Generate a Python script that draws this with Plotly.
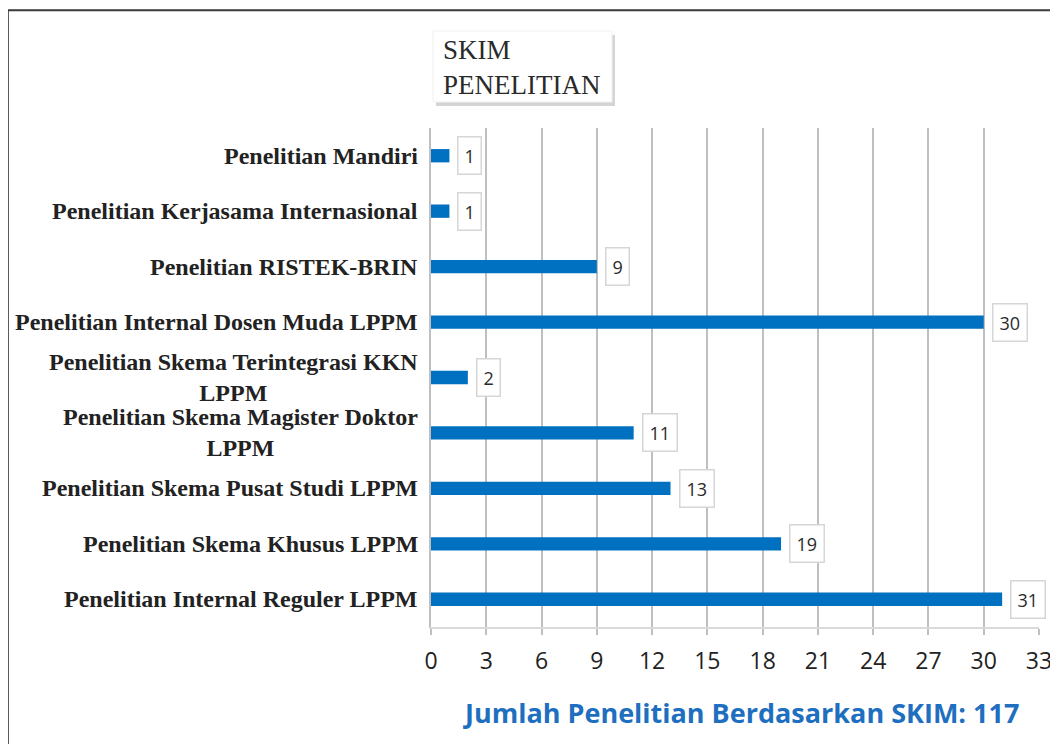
import plotly.graph_objects as go

# categories, top to bottom as in the picture
categories = ['Penelitian Mandiri',
              'Penelitian Kerjasama Internasional',
              'Penelitian RISTEK-BRIN',
              'Penelitian Internal Dosen Muda LPPM',
              'Penelitian Skema Terintegrasi KKN<br>LPPM',
              'Penelitian Skema Magister Doktor<br>LPPM',
              'Penelitian Skema Pusat Studi LPPM',
              'Penelitian Skema Khusus LPPM',
              'Penelitian Internal Reguler LPPM']
counts = [1, 1, 9, 30, 2, 11, 13, 19, 31]
tick_vals = [0, 3, 6, 9, 12, 15, 18, 21, 24, 27, 30, 33]
total = sum(counts)

fig = go.Figure()
fig.add_trace(go.Bar(y=categories, x=counts, orientation='h',
                     marker=dict(color='#0070C0', line=dict(width=0)),
                     width=0.24, hoverinfo='x+y'))

# boxed value labels
for c, v in zip(categories, counts):
    fig.add_annotation(x=v, y=c, xref='x', yref='y', text=str(v),
                       showarrow=False, xanchor='left', xshift=8,
                       font=dict(family='Open Sans', size=18, color='#2a2a2a'),
                       bgcolor='white', bordercolor='#D6D6D6', borderwidth=1.5,
                       borderpad=6)

# category labels (centred lines, right anchored)
for c in categories:
    fig.add_annotation(x=0, y=c, xref='paper', yref='y',
                       text='<b>' + c.replace('<br>', '</b><br><b>') + '</b>',
                       showarrow=False, xanchor='right', xshift=-11, align='center',
                       font=dict(family='Liberation Serif', size=24, color='#222222'))

# outer frame
fig.add_shape(type='rect', xref='paper', yref='paper', x0=-0.696, x1=1.06, y0=-0.28, y1=1.236,
              line=dict(color='#3a3a3a', width=2), fillcolor='rgba(0,0,0,0)', layer='below')

# title box with a soft shadow
fig.add_shape(type='rect', xref='paper', yref='paper', x0=0.0082, x1=0.3026, y0=1.0441, y1=1.1864,
              line=dict(width=0), fillcolor='#D4D4D4', layer='below')
fig.add_shape(type='rect', xref='paper', yref='paper', x0=0.0033, x1=0.2977, y0=1.0521, y1=1.1944,
              line=dict(color='#F0F0F0', width=1), fillcolor='white', layer='below')
fig.add_annotation(x=0.0165, y=1.121, xref='paper', yref='paper', xanchor='left', yanchor='middle',
                   text='SKIM<br>PENELITIAN', showarrow=False, align='left',
                   font=dict(family='Liberation Serif', size=27, color='#2a2a2a'))

# axis caption
fig.add_annotation(x=0.5, y=-0.172, xref='paper', yref='paper', xanchor='center', yanchor='middle',
                   xshift=6, showarrow=False,
                   text=f'<b>Jumlah Penelitian Berdasarkan SKIM: {total}</b>',
                   font=dict(family='Open Sans', size=27, color='#1F6FC0'))

fig.update_layout(
    width=1050, height=736,
    margin=dict(l=423, r=19, t=120, b=117),
    paper_bgcolor='white', plot_bgcolor='white',
    showlegend=False,
    bargap=0.76,
)
fig.update_xaxes(range=[0, 33], tickvals=tick_vals, showgrid=True, automargin=False,
                 gridcolor='#BFBFBF', gridwidth=2,
                 showline=True, linecolor='#D9D9D9', linewidth=2,
                 ticks='outside', ticklen=6, tickcolor='#BFBFBF', tickwidth=2,
                 ticklabelstandoff=6,
                 tickfont=dict(family='Open Sans', size=23, color='#222222'),
                 zeroline=False)
fig.update_yaxes(categoryorder='array', categoryarray=categories[::-1], automargin=False,
                 showticklabels=False, showline=True, linecolor='#BFBFBF', linewidth=2,
                 showgrid=False, zeroline=False)

fig.write_html('out.html')
